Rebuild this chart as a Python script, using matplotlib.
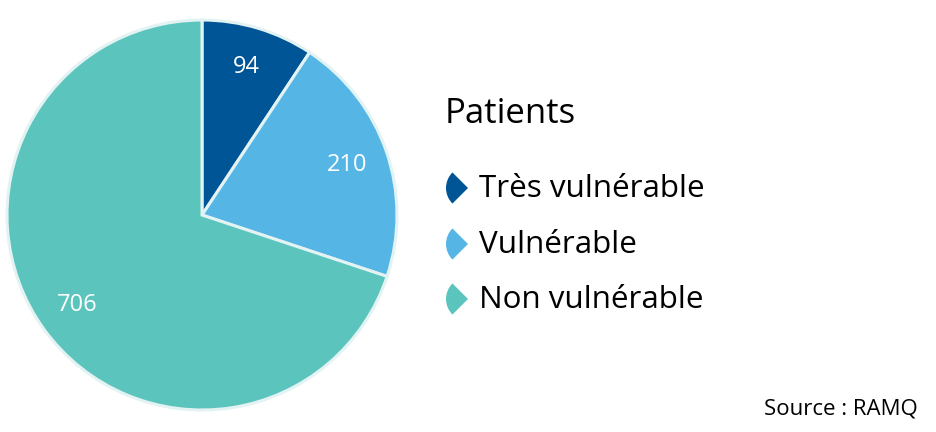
import matplotlib.pyplot as plt
from matplotlib.patches import Wedge

# donnees
categories = ["Très vulnérable", "Vulnérable", "Non vulnérable"]
valeurs = [94, 210, 706]
couleurs = ["#005596", "#55b6e6", "#5bc4bd"]
titre_legende = "Patients"
source = "Source : RAMQ"

plt.rcParams['font.family'] = ['Open Sans', 'DejaVu Sans']

fig = plt.figure(figsize=(9.36, 4.32), dpi=100)

# camembert
ax = fig.add_axes([7/936, 22/432, 390/936, 390/432])
wedges, texts, autotexts = ax.pie(
    valeurs, colors=couleurs, startangle=90, counterclock=False,
    autopct=lambda p: "%d" % round(p * sum(valeurs) / 100),
    pctdistance=0.79, radius=1.0,
    wedgeprops=dict(edgecolor="#e3f3f3", linewidth=2.2),
    textprops=dict(color="white", fontsize=17))
for w in wedges:
    w.set_clip_on(False)
ax.set_xlim(-1, 1)
ax.set_ylim(-1, 1)
ax.set_aspect('equal')

# legende dessinee a la main, en pixels
lg = fig.add_axes([0, 0, 1, 1])
lg.set_xlim(0, 936)
lg.set_ylim(432, 0)
lg.axis('off')

lg.text(445, 114, titre_legende, fontsize=25, va='center', ha='left', color='black')
ys = [188, 244, 299]
for nom, c, y in zip(categories, couleurs, ys):
    lg.add_patch(Wedge((468, y), 22, 135, 225, facecolor=c, edgecolor='none'))
    lg.text(479, y + 1, nom, fontsize=22.6, va='center', ha='left', color='black')

lg.text(918, 409, source, fontsize=16, va='center', ha='right', color='black')

fig.savefig("out.png", dpi=100)
